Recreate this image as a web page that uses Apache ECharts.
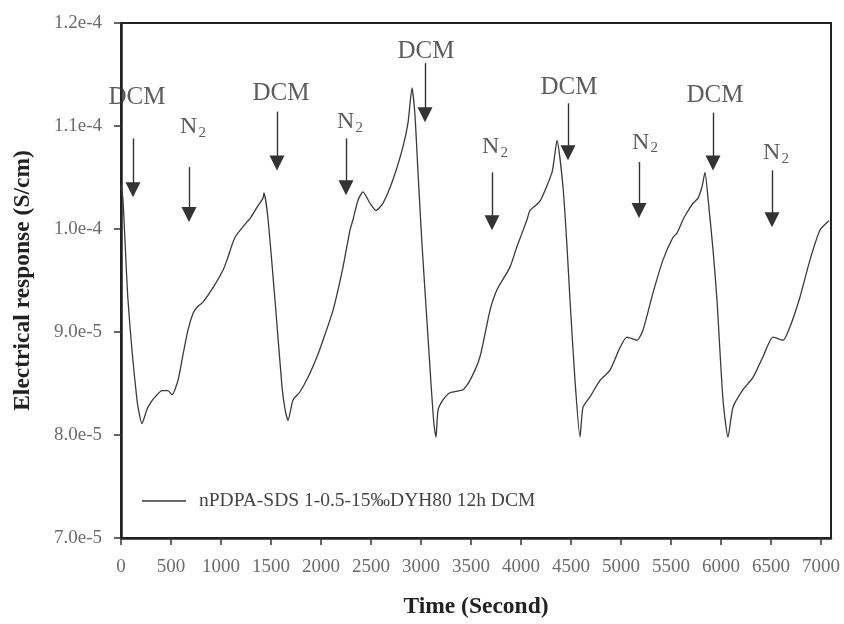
<!DOCTYPE html>
<html>
<head>
<meta charset="utf-8">
<script src="https://cdn.jsdelivr.net/npm/echarts@6/dist/echarts.min.js"></script>
<style>
  html, body { margin: 0; padding: 0; background: #fff; }
  #chart { width: 844px; height: 624px; }
</style>
</head>
<body>
<div id="chart"></div>
<script>
// Conductivity trace under alternating DCM / N2 exposure
const seriesName = 'nPDPA-SDS 1-0.5-15\u2030DYH80 12h DCM';

const timeSec = [
  0, 20, 70, 160, 210, 260, 300, 350, 410, 470, 510, 570, 620, 670, 720, 760, 820, 920, 1020, 1060,
  1140, 1260, 1290, 1360, 1420, 1430, 1470, 1540, 1610, 1640, 1670,
  1720, 1790, 1870, 1960, 2020, 2120, 2220, 2290, 2320, 2370, 2420, 2490, 2550, 2620, 2720, 2820,
  2870, 2910, 2940, 2970, 3010, 3060, 3100, 3130, 3150,
  3170, 3220, 3290, 3420, 3490, 3590, 3690, 3760, 3890, 3960, 4060, 4090, 4190, 4310, 4340, 4360,
  4420, 4460, 4490, 4540, 4590,
  4620, 4690, 4790, 4890, 4990, 5060, 5160, 5220, 5320, 5420, 5520, 5560, 5620, 5660, 5720, 5770,
  5810, 5840, 5870, 5920, 5960, 6020, 6070,
  6120, 6220, 6320, 6420, 6520, 6620, 6690, 6790, 6890, 6990, 7080
];

const response = [
  10.43e-5, 10.28e-5, 9.31e-5, 8.34e-5, 8.11e-5, 8.25e-5, 8.32e-5, 8.38e-5, 8.43e-5, 8.43e-5, 8.39e-5, 8.53e-5, 8.78e-5, 9.02e-5, 9.18e-5, 9.24e-5, 9.29e-5, 9.43e-5, 9.60e-5, 9.70e-5,
  9.92e-5, 10.07e-5, 10.10e-5, 10.21e-5, 10.30e-5, 10.35e-5, 10.10e-5, 9.31e-5, 8.47e-5, 8.25e-5, 8.14e-5,
  8.34e-5, 8.42e-5, 8.56e-5, 8.76e-5, 8.92e-5, 9.21e-5, 9.63e-5, 9.99e-5, 10.09e-5, 10.28e-5, 10.36e-5, 10.25e-5, 10.18e-5, 10.25e-5, 10.48e-5, 10.80e-5,
  11.03e-5, 11.37e-5, 11.10e-5, 10.55e-5, 9.85e-5, 9.10e-5, 8.50e-5, 8.10e-5, 7.98e-5,
  8.24e-5, 8.34e-5, 8.41e-5, 8.44e-5, 8.53e-5, 8.76e-5, 9.21e-5, 9.41e-5, 9.63e-5, 9.83e-5, 10.09e-5, 10.18e-5, 10.27e-5, 10.55e-5, 10.74e-5, 10.86e-5,
  10.41e-5, 9.83e-5, 9.31e-5, 8.53e-5, 7.98e-5,
  8.27e-5, 8.37e-5, 8.53e-5, 8.63e-5, 8.85e-5, 8.95e-5, 8.92e-5, 9.02e-5, 9.38e-5, 9.70e-5, 9.92e-5, 9.96e-5, 10.09e-5, 10.16e-5, 10.25e-5, 10.30e-5,
  10.41e-5, 10.55e-5, 10.30e-5, 9.80e-5, 9.31e-5, 8.34e-5, 7.98e-5,
  8.27e-5, 8.44e-5, 8.56e-5, 8.76e-5, 8.95e-5, 8.92e-5, 9.05e-5, 9.34e-5, 9.70e-5, 9.99e-5, 10.08e-5
];

// Gas switching events: label, time of the arrow, arrow start / arrow-head level
const eventLabels  = ['DCM', 'N2', 'DCM', 'N2', 'DCM', 'N2', 'DCM', 'N2', 'DCM', 'N2'];
const eventTimes   = [120, 680, 1560, 2250, 3040, 3710, 4470, 5180, 5920, 6510];
const arrowTop     = [10.88e-5, 10.60e-5, 11.14e-5, 10.88e-5, 11.61e-5, 10.55e-5, 11.22e-5, 10.65e-5, 11.13e-5, 10.57e-5];
const arrowHead    = [10.38e-5, 10.14e-5, 10.64e-5, 10.40e-5, 11.11e-5, 10.06e-5, 10.74e-5, 10.18e-5, 10.64e-5, 10.09e-5];
// Text anchor of each event label
const labelTimes   = [160, 720, 1600, 2290, 3050, 3740, 4480, 5240, 5940, 6550];
const labelLevels  = [11.28e-5, 10.99e-5, 11.32e-5, 11.04e-5, 11.72e-5, 10.80e-5, 11.37e-5, 10.84e-5, 11.30e-5, 10.74e-5];

const xTickLabels = ['0', '500', '1000', '1500', '2000', '2500', '3000', '3500', '4000', '4500', '5000', '5500', '6000', '6500', '7000'];
const yTickLabels = ['7.0e-5', '8.0e-5', '9.0e-5', '1.0e-4', '1.1e-4', '1.2e-4'];

const serif = 'Liberation Serif';
const tickColor = '#6b6b6b';
const inkColor = '#333';

const chart = echarts.init(document.getElementById('chart'), null, { renderer: 'canvas' });

const lineData = timeSec.map((t, i) => [t, response[i]]);

const arrowData = eventTimes.map((t, i) => [
  { coord: [t, arrowTop[i]] },
  { coord: [t, arrowHead[i]] }
]);

const labelData = labelTimes.map((t, i) => ({ name: eventLabels[i], value: [t, labelLevels[i]] }));

const option = {
  backgroundColor: '#fff',
  animation: false,
  grid: {
    left: 121, right: 13, top: 23, bottom: 86,
    show: true, borderColor: '#222', borderWidth: 2, backgroundColor: 'transparent'
  },
  legend: {
    data: [{ name: seriesName, icon: 'rect' }],
    left: 142, top: 491, padding: 0,
    itemWidth: 44, itemHeight: 1.5,
    itemStyle: { color: '#3a3a3a', borderWidth: 0 },
    textStyle: { fontFamily: serif, fontSize: 19.5, color: '#444', padding: [0, 0, 0, 8] }
  },
  xAxis: {
    type: 'value', min: 0, max: 7100, interval: 500,
    axisLine: { show: true, onZero: false, lineStyle: { color: '#222', width: 2.5 } },
    axisTick: { show: true, length: 7, lineStyle: { color: '#333', width: 1.5 } },
    axisLabel: {
      showMaxLabel: false, margin: 20, color: tickColor, fontFamily: serif, fontSize: 19,
      formatter: v => { const k = Math.round(v / 500); return (v % 500 === 0 && xTickLabels[k]) || ''; }
    },
    splitLine: { show: false },
    name: 'Time (Second)', nameLocation: 'middle', nameGap: 57,
    nameTextStyle: { fontFamily: serif, fontSize: 23.5, fontWeight: 'bold', color: '#222' }
  },
  yAxis: {
    type: 'value', min: 7e-5, max: 1.2e-4, interval: 1e-5,
    axisLine: { show: true, onZero: false, lineStyle: { color: '#222', width: 2.5 } },
    axisTick: { show: true, length: 7, lineStyle: { color: '#333', width: 1.5 } },
    axisLabel: {
      margin: 19, color: tickColor, fontFamily: serif, fontSize: 19,
      formatter: (v, idx) => yTickLabels[idx] || ''
    },
    splitLine: { show: false },
    name: 'Electrical response (S/cm)', nameLocation: 'middle', nameGap: 86,
    nameTextStyle: { fontFamily: serif, fontSize: 23.5, fontWeight: 'bold', color: '#222' }
  },
  series: [
    {
      name: seriesName,
      type: 'line',
      data: lineData,
      showSymbol: false,
      symbol: 'none',
      smooth: 0.2,
      lineStyle: { color: '#3a3a3a', width: 1.3 },
      itemStyle: { color: '#3a3a3a' },
      markLine: {
        silent: true,
        symbol: ['none', 'triangle'],
        symbolSize: 15,
        label: { show: false },
        lineStyle: { color: inkColor, width: 1.4, type: 'solid' },
        itemStyle: { color: inkColor },
        emphasis: { disabled: true },
        data: arrowData
      },
      z: 3
    },
    {
      type: 'scatter',
      data: labelData,
      symbolSize: 0,
      silent: true,
      label: {
        show: true,
        position: 'inside',
        formatter: p => (p.name === 'N2' ? '{n|N}{s|2}' : '{d|DCM}'),
        rich: {
          d: { fontFamily: serif, fontSize: 25, color: inkColor },
          n: { fontFamily: serif, fontSize: 24, color: inkColor },
          s: { fontFamily: serif, fontSize: 15, color: inkColor, padding: [12, 0, 0, 1] }
        }
      },
      z: 4
    }
  ]
};

chart.setOption(option);
</script>
</body>
</html>
